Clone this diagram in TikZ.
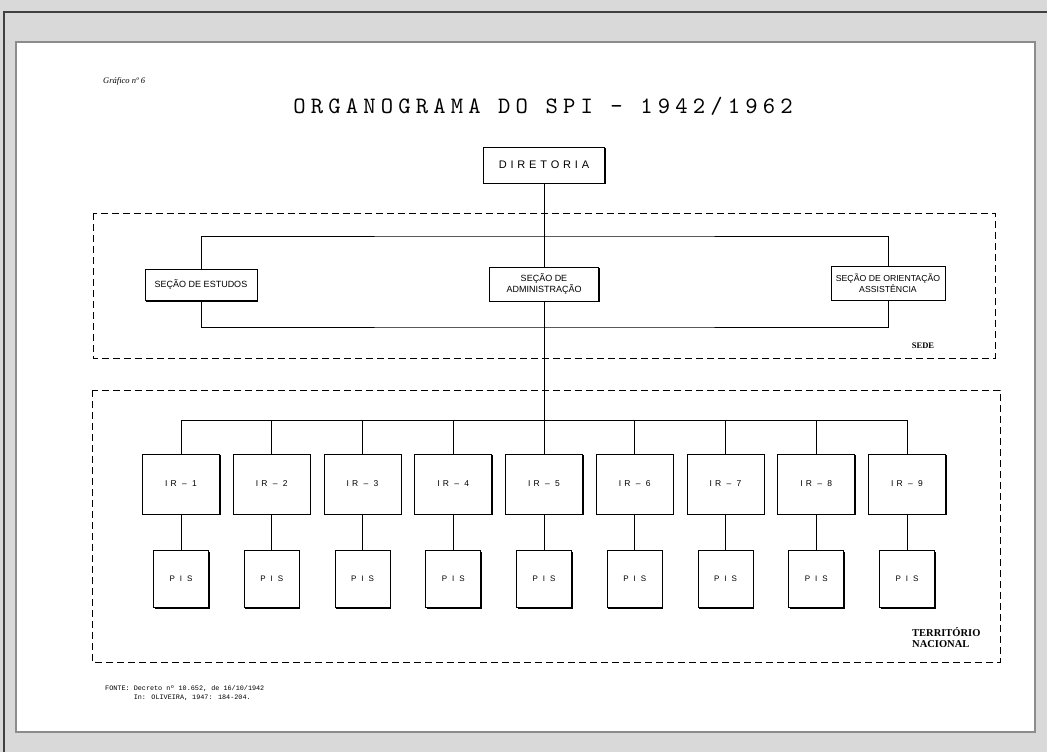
\documentclass[tikz,border=0pt]{standalone}
\usepackage{fontspec}
\setmainfont{Liberation Serif}
\newfontfamily\boxfont{Liberation Sans}
\newfontfamily\notefont{Liberation Mono}
\newfontfamily\titlefont{lmmono10-regular}[Extension=.otf,LetterSpace=22]
\usetikzlibrary{shadows}

\begin{document}
\begin{tikzpicture}[x=1pt,y=-1pt,
  unit/.style={draw,line width=0.9pt,fill=white,inner sep=1pt,align=center,font=\boxfont\fontsize{9}{10.5}\selectfont,general shadow={shadow xshift=1.2pt,shadow yshift=-1.2pt,fill=black}},
  spaced/.style={font=\boxfont\fontsize{#1}{10}\selectfont\addfontfeature{LetterSpace=35}},
  region/.style={draw,line width=0.8pt,dash pattern=on 7pt off 4pt},
  link/.style={line width=0.8pt}]
  \useasboundingbox (0,0) rectangle (1047,752);
  % page
  \fill[gray!30] (0,0) rectangle (1047,752); \draw[black!75,line width=1.2pt] (4,752) -- (4,12) -- (1047,12);
  \draw[black!45,line width=1.5pt,fill=white] (16,42) rectangle (1035,732);
  \node[font=\itshape\fontsize{8.5}{9}\selectfont,anchor=west,inner sep=0] (grafico) at (103,81) {Gráfico nº 6};
  \node[font=\titlefont\fontsize{23.5}{25}\selectfont] (title) at (543,106) {ORGANOGRAMA DO SPI — 1942/1962};
  % sede
  \draw[region] (93,213) rectangle (995,358); \node[font=\bfseries\fontsize{8.5}{9}\selectfont] (sede) at (923,346) {SEDE};
  \node[unit,spaced=11,minimum width=121pt,minimum height=36pt] (dir) at (544,165) {DIRETORIA};
  \node[unit,minimum width=112pt,minimum height=31pt] (est) at (201,285) {SEÇÃO DE ESTUDOS};
  \node[unit,minimum width=109pt,minimum height=34pt] (adm) at (544,284) {SEÇÃO DE\\ADMINISTRAÇÃO};
  \node[unit,minimum width=114pt,minimum height=34pt,font=\boxfont\fontsize{8.7}{10.5}\selectfont] (ori) at (888,283) {SEÇÃO DE ORIENTAÇÃO\\ASSISTÊNCIA};
  \coordinate (sedetop) at (544,236); \coordinate (sedebot) at (544,327); \coordinate (irbus) at (544,420);
  \draw[link] (est.north) |- (sedetop) -| (ori.north); \draw[link] (est.south) |- (sedebot) -| (ori.south);
  \draw[link] (dir.south) -- (adm.north); \draw[link] (adm.south) -- (irbus);
  % territorio nacional
  \draw[region] (92,390) rectangle (1000,662);
  \node[font=\bfseries\fontsize{10.5}{11.5}\selectfont,align=left,anchor=north west,inner sep=0] (terr) at (912,627) {TERRITÓRIO\\NACIONAL};
  \foreach \i in {1,...,9}{
    \node[unit,spaced=8.5,minimum width=77pt,minimum height=60pt] (ir\i) at ({181+90.75*(\i-1)},484) {IR – \i};
    \node[unit,spaced=8,minimum width=55pt,minimum height=57pt] (pis\i) at ({181+90.75*(\i-1)},579) {P I S};
    \draw[link] (ir\i) -- (pis\i); \draw[link] (ir\i.north) -- (ir\i.north |- irbus);
  }
  \draw[link] (ir1.north |- irbus) -- (ir9.north |- irbus);
  \node[font=\notefont\fontsize{6.8}{9}\selectfont,anchor=north west,align=left,inner sep=0] (fonte) at (105,685) {FONTE: Decreto nº 10.652, de 16/10/1942\\\phantom{FONTE: }In: OLIVEIRA, 1947: 184-204.};
\end{tikzpicture}
\end{document}
